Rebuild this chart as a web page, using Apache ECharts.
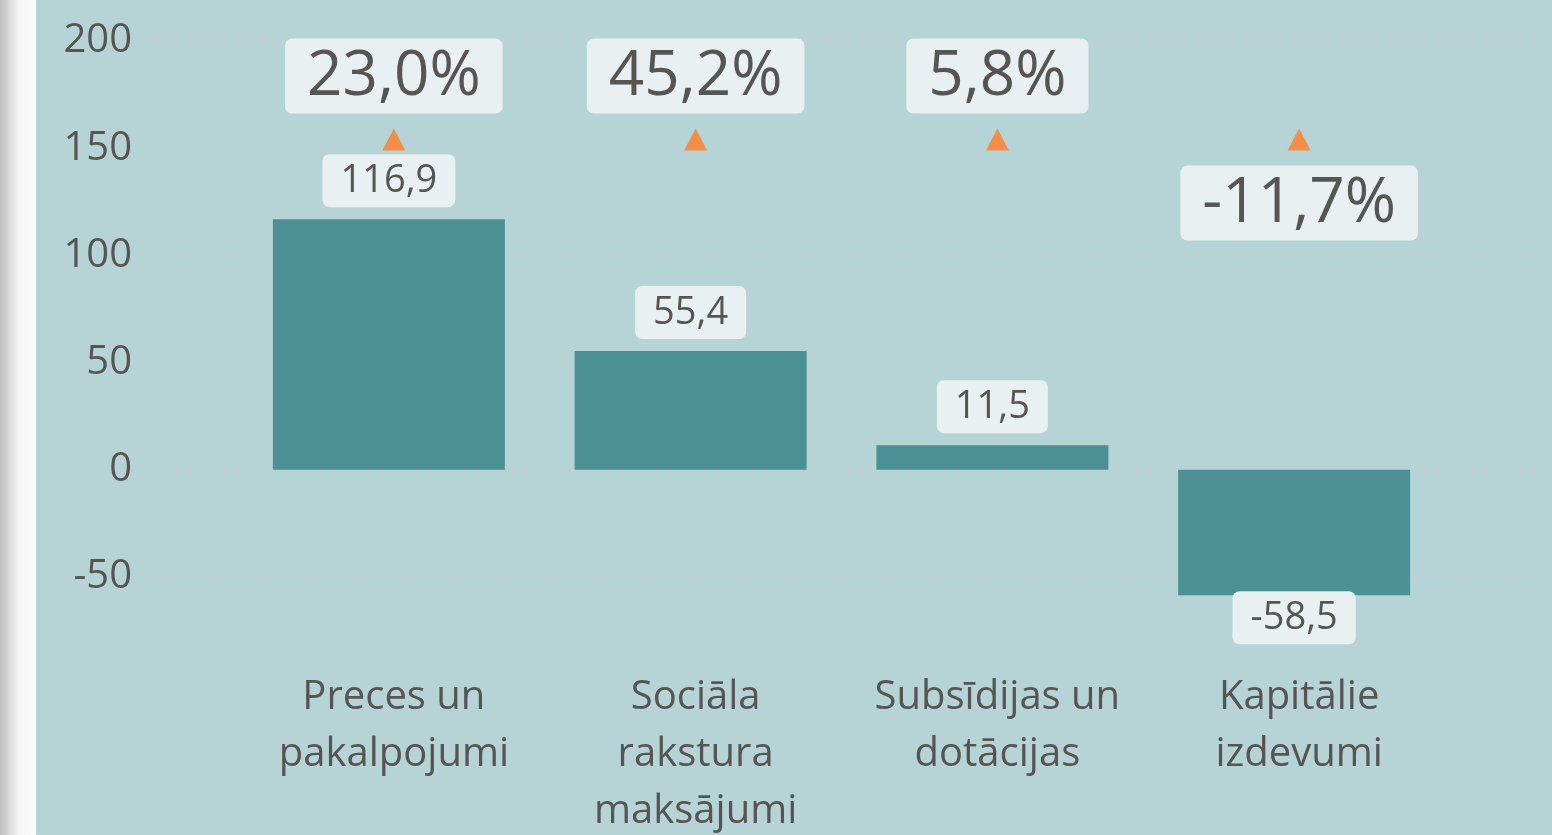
<!DOCTYPE html>
<html>
<head>
<meta charset="utf-8">
<script src="https://cdn.jsdelivr.net/npm/echarts@6/dist/echarts.min.js"></script>
<style>
  html, body { margin: 0; padding: 0; }
  #chart { width: 1552px; height: 835px; }
</style>
</head>
<body>
<div id="chart"></div>
<script>
// izdevumu kategorijas un vērtības
const categories = ['Preces un\npakalpojumi', 'Sociāla\nrakstura\nmaksājumi', 'Subsīdijas un\ndotācijas', 'Kapitālie\nizdevumi']
const values = [116.9, 55.4, 11.5, -58.5]
const pctChange = [23.0, 45.2, 5.8, -11.7]
const markerLevel = [154, 154, 154, 154]
const yTicks = [-50, 0, 50, 100, 150, 200]

const textColor = '#575454'
const fontFamily = '"Open Sans", "Noto Sans", sans-serif'
const fmt = v => v.toFixed(1).replace('.', ',')

const chart = echarts.init(document.getElementById('chart'))

const yBase = {
  type: 'value',
  min: yTicks[0],
  max: yTicks[yTicks.length - 1],
  interval: 50,
  axisLine: { show: false },
  axisTick: { show: false }
}

// negatīvām vērtībām etiķete zem stabiņa / zem trīsstūra
const barData = values.map(v => ({
  value: v,
  label: v < 0 ? { position: 'bottom', distance: -4 } : undefined
}))
const markerData = markerLevel.map((v, i) => ({
  value: v,
  label: pctChange[i] < 0 ? { position: 'bottom', distance: 15 } : undefined
}))

const option = {
  backgroundColor: '#b6d4d6',
  animation: false,
  graphic: [
    {
      type: 'rect',
      shape: { x: 0, y: 0, width: 36, height: 835 },
      style: {
        fill: new echarts.graphic.LinearGradient(0, 0, 1, 0, [
          { offset: 0, color: '#bfbfbf' },
          { offset: 0.55, color: '#f6f6f6' },
          { offset: 1, color: '#fbfbfb' }
        ])
      }
    }
  ],
  grid: [
    { left: 153, right: 12, top: 41, bottom: 258, outerBoundsMode: 'none' },
    { left: 238, right: 107, top: 41, bottom: 258, outerBoundsMode: 'none' },
    { left: 243, right: 102, top: 41, bottom: 258, outerBoundsMode: 'none' }
  ],
  xAxis: [
    { gridIndex: 0, type: 'category', data: categories, show: false },
    { gridIndex: 1, type: 'category', data: categories, show: false },
    {
      gridIndex: 2,
      type: 'category',
      data: categories,
      axisLine: { show: false },
      axisTick: { show: false },
      axisLabel: {
        margin: 92,
        color: textColor,
        fontFamily: fontFamily,
        fontSize: 40,
        lineHeight: 57,
        interval: 0
      }
    }
  ],
  yAxis: [
    {
      ...yBase,
      gridIndex: 0,
      axisLabel: { margin: 21, color: textColor, fontFamily: fontFamily, fontSize: 40, padding: [6, 0, 0, 0] },
      splitLine: { show: true, lineStyle: { color: '#d3c9c9', width: 2.5, type: [2, 10] } }
    },
    { ...yBase, gridIndex: 1, show: false, splitLine: { show: false } },
    { ...yBase, gridIndex: 2, show: false, splitLine: { show: false } }
  ],
  series: [
    {
      type: 'bar',
      xAxisIndex: 1,
      yAxisIndex: 1,
      data: barData,
      barWidth: 232,
      clip: false,
      itemStyle: { color: '#4a9094' },
      label: {
        show: true,
        formatter: p => fmt(p.value),
        position: 'top',
        distance: 12,
        color: textColor,
        fontFamily: fontFamily,
        fontSize: 38,
        backgroundColor: '#e8f0f1',
        borderRadius: 7,
        padding: [8, 18, 7, 18]
      }
    },
    {
      type: 'scatter',
      xAxisIndex: 2,
      yAxisIndex: 2,
      data: markerData,
      symbol: 'triangle',
      symbolSize: [23, 22],
      itemStyle: { color: '#f28e48', opacity: 1 },
      label: {
        show: true,
        formatter: p => fmt(pctChange[p.dataIndex]) + '%',
        position: 'top',
        distance: 15,
        color: textColor,
        fontFamily: fontFamily,
        fontSize: 62,
        backgroundColor: '#e8f0f1',
        borderRadius: 7,
        padding: [8, 22, 5, 22]
      }
    }
  ]
}

chart.setOption(option)
</script>
</body>
</html>
